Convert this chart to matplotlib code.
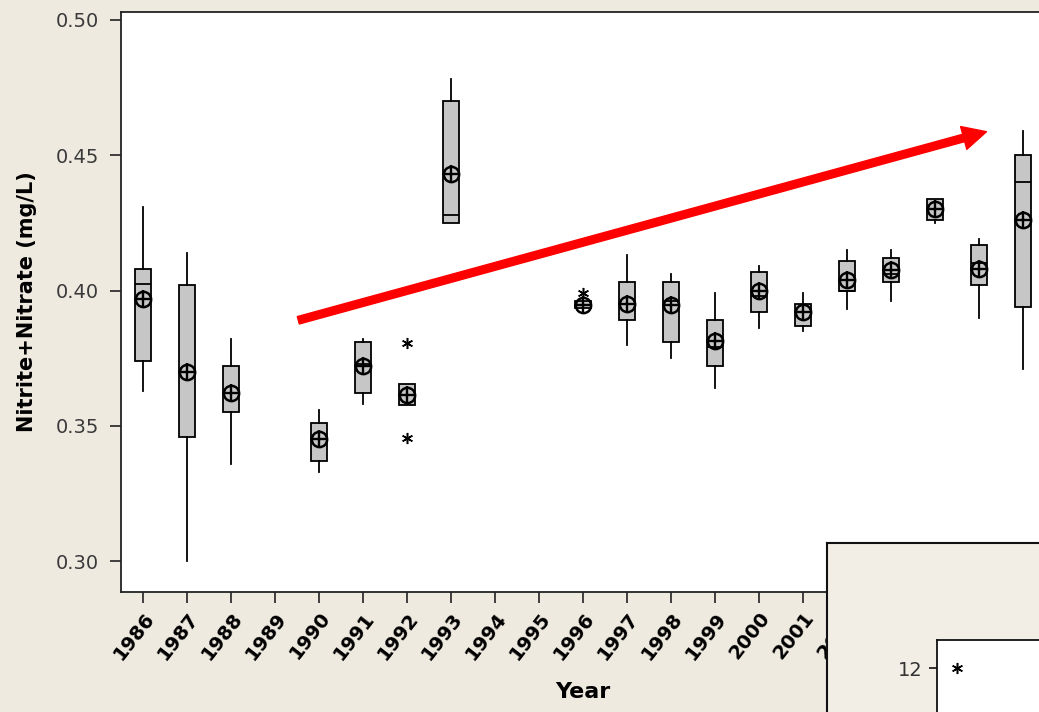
import matplotlib
matplotlib.use("Agg")
import matplotlib.pyplot as plt
from matplotlib.transforms import ScaledTranslation

# Sampling years shown on the category axis
years = list(range(1986, 2007))

# Years that have a box, with their summary statistics (mg/L)
box_years = [1986, 1987, 1988, 1990, 1991, 1992, 1993, 1996, 1997, 1998,
             1999, 2000, 2001, 2002, 2003, 2004, 2005, 2006]
whisker_high = [0.431, 0.414, 0.382, 0.356, 0.382, 0.3656, 0.478, 0.396, 0.413,
                0.406, 0.399, 0.409, 0.399, 0.415, 0.415, 0.434, 0.419, 0.459]
upper_quart = [0.408, 0.402, 0.372, 0.351, 0.381, 0.3656, 0.470, 0.396, 0.403,
               0.403, 0.389, 0.407, 0.395, 0.411, 0.412, 0.434, 0.417, 0.450]
medians = [0.4025, 0.370, 0.362, 0.345, 0.373, 0.3615, 0.428, 0.3945, 0.395,
           0.396, 0.379, 0.398, 0.392, 0.400, 0.406, 0.430, 0.410, 0.440]
lower_quart = [0.374, 0.346, 0.355, 0.337, 0.362, 0.3578, 0.425, 0.3935, 0.389,
               0.381, 0.372, 0.392, 0.387, 0.400, 0.403, 0.426, 0.402, 0.394]
whisker_low = [0.363, 0.300, 0.336, 0.333, 0.358, 0.3578, 0.425, 0.3935, 0.380,
               0.375, 0.364, 0.386, 0.385, 0.393, 0.396, 0.425, 0.390, 0.371]
means = [0.397, 0.370, 0.362, 0.345, 0.372, 0.3615, 0.443, 0.3948, 0.395,
         0.3945, 0.3815, 0.400, 0.392, 0.404, 0.4075, 0.430, 0.408, 0.426]
outliers = {1992: [0.3806, 0.3455], 1996: [0.399]}

# Trend arrow (category position, concentration)
arrow_start = (4.53, 0.389)
arrow_end = (20.17, 0.4587)

# Second chart peeking in at the lower right
inset_ticks = [12]
inset_points = [12]

BG = "#efeae0"
INSET_BG = "#f2eee6"
BOX_FILL = "#c6c6c6"

fig = plt.figure(figsize=(10.39, 7.12), dpi=100)
fig.patch.set_facecolor(BG)

ax = fig.add_axes([121 / 1039, 120 / 712, 924 / 1039, 580 / 712])
ax.set_facecolor("white")

positions = [years.index(y) + 1 for y in box_years]
stats = []
for i, yr in enumerate(box_years):
    stats.append(dict(whislo=whisker_low[i], q1=lower_quart[i], med=medians[i],
                      q3=upper_quart[i], whishi=whisker_high[i], mean=means[i],
                      fliers=outliers.get(yr, [])))

ax.bxp(stats, positions=positions, widths=0.36, patch_artist=True,
       showmeans=True, showcaps=False, manage_ticks=False,
       boxprops=dict(facecolor=BOX_FILL, edgecolor="black", linewidth=1.3),
       medianprops=dict(color="black", linewidth=1.3),
       whiskerprops=dict(color="black", linewidth=1.3),
       meanprops=dict(marker="o", markerfacecolor="none", markeredgecolor="black",
                      markersize=11, markeredgewidth=1.8),
       flierprops=dict(marker=(6, 2, 0), markeredgecolor="black",
                       markersize=8, markeredgewidth=1.1))
# crosshair through each mean symbol
ax.plot(positions, means, linestyle="none", marker="+", markersize=13.5,
        markeredgewidth=1.7, color="black", zorder=5)

ax.set_xlim(0.5, 21.5)
ax.set_ylim(0.28856, 0.50295)
ax.set_yticks([0.30, 0.35, 0.40, 0.45, 0.50])
ax.set_yticklabels(["0.30", "0.35", "0.40", "0.45", "0.50"], fontsize=14, color="#3a3a3a")
ax.set_xticks(range(1, len(years) + 1))
ax.set_xticklabels([str(y) for y in years], rotation=52, ha="right", va="top",
                   rotation_mode="anchor", fontsize=14, fontweight="bold")
shift = ScaledTranslation(-10 / 100, -4 / 100, fig.dpi_scale_trans)
for lbl in ax.get_xticklabels():
    lbl.set_transform(lbl.get_transform() + shift)
ax.tick_params(axis="both", direction="out", length=8, width=1.2, color="#222222")
ax.tick_params(axis="x", pad=4)
ax.tick_params(axis="y", pad=8)
for side in ("left", "bottom", "top", "right"):
    ax.spines[side].set_linewidth(1.3)
    ax.spines[side].set_color("#222222")

ax.set_ylabel("Nitrite+Nitrate (mg/L)", fontsize=15, fontweight="bold")
ax.yaxis.set_label_coords(-0.091, 0.5)
ax.set_xlabel("Year", fontsize=16, fontweight="bold")
ax.xaxis.set_label_coords(0.5, -0.155)

ax.annotate("", xy=arrow_end, xytext=arrow_start, annotation_clip=False,
            arrowprops=dict(facecolor="#ff0000", edgecolor="#ff0000", width=5.5,
                            headwidth=17, headlength=17, shrink=0))

# Frame of the overlapping second chart
frame = fig.add_axes([827 / 1039, -0.02, 0.3, 169 / 712 + 0.02])
frame.set_facecolor(INSET_BG)
frame.set_xticks([])
frame.set_yticks([])
for side in ("left", "top"):
    frame.spines[side].set_linewidth(1.5)
    frame.spines[side].set_color("#111111")

inset = fig.add_axes([936.7 / 1039, -40 / 712, 0.2, 112 / 712])
inset.set_facecolor("white")
inset.set_xlim(0.5, 5.5)
inset.set_ylim(9, 13)
inset.plot([1] * len(inset_points), inset_points, linestyle="none", marker=(6, 2, 0),
           markersize=8, markeredgewidth=1.1, color="black")
inset.set_xticks([])
inset.set_yticks(inset_ticks)
inset.set_yticklabels([str(t) for t in inset_ticks], fontsize=14, color="#333333")
inset.tick_params(axis="y", direction="out", length=6, width=1.1, pad=4)
for side in ("left", "top"):
    inset.spines[side].set_linewidth(1.3)
    inset.spines[side].set_color("#111111")

fig.savefig("out.png", dpi=100, facecolor=BG)
